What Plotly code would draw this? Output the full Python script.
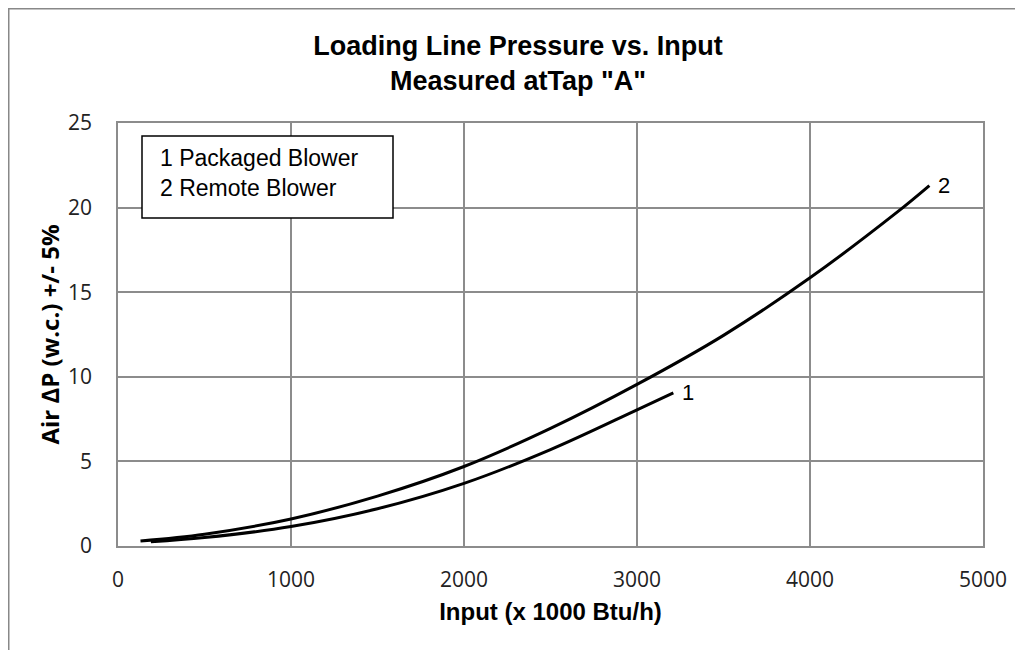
import plotly.graph_objects as go

# Data
packaged_x = [190, 500, 1000, 1500, 2000, 2500, 3000, 3210]
packaged_y = [0.25, 0.5, 1.15, 2.2, 3.7, 5.7, 8.05, 9.05]

remote_x = [130, 500, 1000, 1500, 2000, 2500, 3000, 3500, 4000, 4500, 4690]
remote_y = [0.3, 0.7, 1.6, 2.95, 4.7, 6.95, 9.55, 12.45, 15.85, 19.7, 21.3]

x_ticks = [0, 1000, 2000, 3000, 4000, 5000]
y_ticks = [0, 5, 10, 15, 20, 25]

# page body margin offset (8px) compensated: target screen coords below
OFF = 8
W, H = 1023 - OFF, 650 - OFF
ML, MT = 118 - OFF, 123 - OFF
MR = W - (983 - OFF)
MB = H - (546 - OFF)
PW, PH = W - ML - MR, H - MT - MB


def px(xs):
    return (xs - OFF - ML) / PW


def py(ys):
    return (H - MB - (ys - OFF)) / PH


fig = go.Figure()
fig.add_trace(go.Scatter(x=packaged_x, y=packaged_y, mode="lines",
                         line=dict(color="black", width=3, shape="spline", smoothing=1.0),
                         showlegend=False))
fig.add_trace(go.Scatter(x=remote_x, y=remote_y, mode="lines",
                         line=dict(color="black", width=3, shape="spline", smoothing=1.0),
                         showlegend=False))

grid = "#8c8c8c"
tickfont = dict(family="Open Sans", size=21, color="#222")

fig.update_layout(
    width=W, height=H,
    margin=dict(l=ML, r=MR, t=MT, b=MB),
    paper_bgcolor="white", plot_bgcolor="white",
    title=dict(text="Loading Line Pressure vs. Input<br>Measured atTap \"A\"",
               x=px(518), xref="paper", xanchor="center",
               y=1 - (54.5 - OFF) / H, yanchor="middle",
               font=dict(family="Liberation Sans", size=27, color="black", weight="bold")),
    xaxis=dict(range=[0, 5000], tickvals=x_ticks, showgrid=True, gridcolor=grid,
               gridwidth=1.5, zeroline=False, showline=True, linecolor=grid,
               linewidth=1.5, mirror=True, ticks="", tickfont=tickfont,
               ticklabelstandoff=14,
               title=dict(text="<b>Input (x 1000 Btu/h)</b>", standoff=11,
                          font=dict(family="Liberation Sans", size=24, color="black"))),
    yaxis=dict(range=[0, 25], tickvals=y_ticks, showgrid=True, gridcolor=grid,
               gridwidth=1.5, zeroline=False, showline=True, linecolor=grid,
               linewidth=1.5, mirror=True, ticks="", tickfont=tickfont,
               ticklabelstandoff=20,
               title=dict(text="<b>Air ∆P (w.c.) +/- 5%</b>", standoff=2,
                          font=dict(family="Open Sans", size=24, color="black"))),
    shapes=[
        dict(type="rect", xref="paper", yref="paper",
             x0=px(OFF + 0.75), x1=px(1040), y0=py(OFF + 0.75), y1=py(670),
             line=dict(color="#888", width=1.5), layer="below"),
        dict(type="rect", xref="paper", yref="paper",
             x0=px(142), x1=px(393), y0=py(218), y1=py(136),
             line=dict(color="black", width=1.5), fillcolor="white", layer="above"),
    ],
    annotations=[
        dict(text="1 Packaged Blower<br>2 Remote Blower", xref="paper", yref="paper",
             x=px(158), y=py(173), xanchor="left", yanchor="middle", align="left",
             showarrow=False,
             font=dict(family="Liberation Sans", size=23, color="black")),
        dict(text="1", x=packaged_x[-1], y=packaged_y[-1], xanchor="left",
             yanchor="middle", xshift=7, showarrow=False,
             font=dict(family="Liberation Sans", size=22, color="black")),
        dict(text="2", x=remote_x[-1], y=remote_y[-1], xanchor="left",
             yanchor="middle", xshift=7, showarrow=False,
             font=dict(family="Liberation Sans", size=22, color="black")),
    ],
)

fig.write_html("out.html")
